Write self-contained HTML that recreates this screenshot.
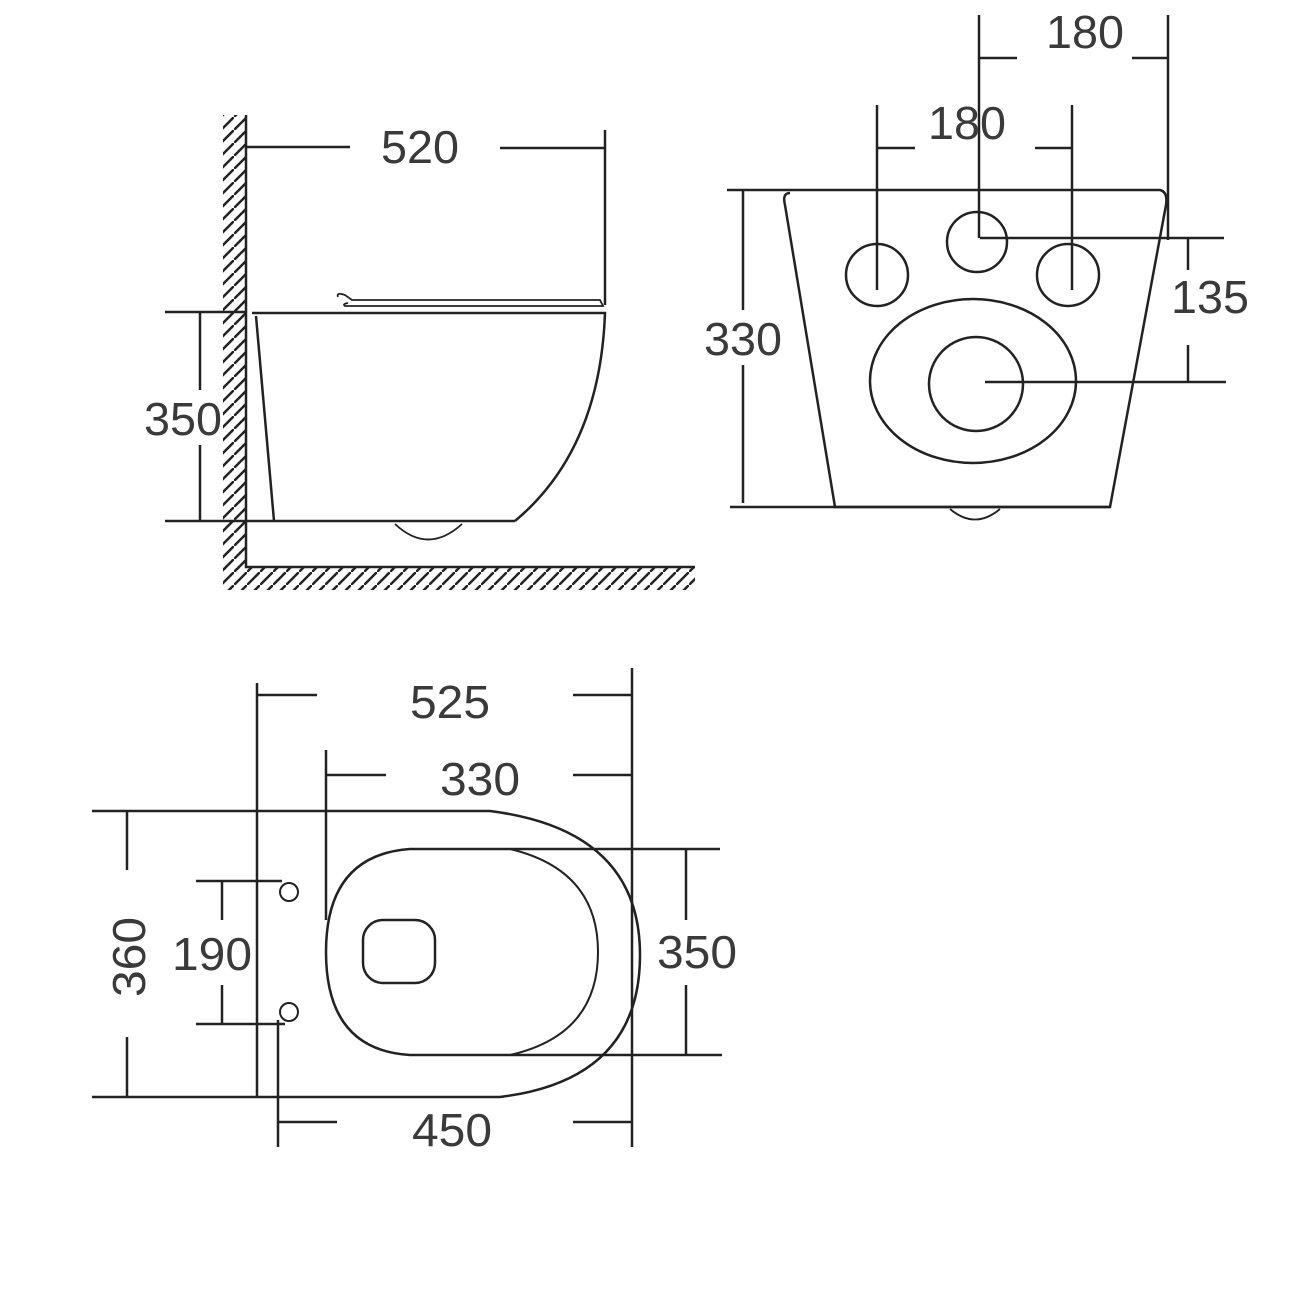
<!DOCTYPE html>
<html><head><style>html,body{margin:0;padding:0;background:#fff}svg{display:block}</style></head><body>
<svg width="1290" height="1294" viewBox="0 0 1290 1294" xmlns="http://www.w3.org/2000/svg">
<defs>
<pattern id="h" width="13" height="13" patternUnits="userSpaceOnUse"><path d="M-2,15 L15,-2" stroke="#222" stroke-width="2.5"/></pattern>
</defs>
<g fill="none" stroke="#222" stroke-width="2.5">
<!-- side view -->
<rect x="223" y="115" width="23" height="455" fill="url(#h)" stroke="none"/>
<rect x="223" y="568" width="472" height="22" fill="url(#h)" stroke="none"/>
<path d="M246,115 V567 H695"/>
<path d="M246,147 H350 M500,148 H605 M605,130 V305"/>
<path d="M338,297 Q336,292 345,295 L352,300 L600,300 L603,306 L345,306 Q342,304 348,303" stroke-width="1.8"/>
<path d="M252,313 H605 Q600,450 515,521 M256,316 L274,521"/>
<path d="M165,521 H515"/>
<path d="M395,524 Q428,555 462,524" stroke-width="1.8"/>
<path d="M165,312 H246 M200,312 V390 M200,445 V521"/>
<!-- front view -->
<path d="M727,190 H1160 Q1168,192 1166,205 L1110,507 H835 L785,205 Q782,193 790,193"/>
<path d="M730,507 H1110 M743,190 V310 M743,365 V503"/>
<circle cx="977" cy="242" r="30"/><circle cx="877" cy="275" r="31"/><circle cx="1068" cy="275" r="31"/>
<ellipse cx="973" cy="381" rx="103" ry="82"/><circle cx="976" cy="384" r="47"/>
<path d="M985,382 H1226 M980,238 H1224 M1188,238 V270 M1188,345 V382"/>
<path d="M979,15 V238 M1168,15 V240 M979,58 H1017 M1132,58 H1168"/>
<path d="M877,105 V290 M1072,105 V290 M877,148 H915 M1035,148 H1072"/>
<path d="M950,509 Q975,530 1000,509" stroke-width="1.8"/>
<!-- top view -->
<path d="M257,683 V1097 M632,668 V1147 M257,695 H317 M573,695 H632"/>
<path d="M326,750 V920 M326,775 H386 M573,775 H632"/>
<path d="M92,811 H490 Q640,830 640,955 Q640,1080 500,1097 H92"/>
<path d="M720,849 H410 Q326,855 326,952 Q326,1050 410,1055 H722"/>
<path d="M510,849 Q598,870 598,952 Q598,1035 510,1055" stroke-width="2"/>
<path d="M686,849 V920 M686,985 V1055"/>
<rect x="363" y="920" width="72" height="63" rx="20"/>
<path d="M127,811 V870 M127,1037 V1097"/>
<path d="M196,881 H282 M196,1024 H285 M222,881 V920 M222,985 V1024"/>
<circle cx="289" cy="892" r="9" stroke-width="2"/><circle cx="289" cy="1012" r="9" stroke-width="2"/>
<path d="M278,1020 V1147 M278,1122 H337 M573,1122 H632"/>
</g>
<g font-family="Liberation Sans, sans-serif" font-size="46" fill="#3a3a3a" text-anchor="middle">
<text x="420" y="163" textLength="78" lengthAdjust="spacingAndGlyphs">520</text>
<text x="183" y="435" textLength="78" lengthAdjust="spacingAndGlyphs">350</text>
<text x="743" y="355" textLength="78" lengthAdjust="spacingAndGlyphs">330</text>
<text x="1085" y="48" textLength="78" lengthAdjust="spacingAndGlyphs">180</text>
<text x="967" y="139" textLength="78" lengthAdjust="spacingAndGlyphs">180</text>
<text x="1210" y="313" textLength="78" lengthAdjust="spacingAndGlyphs">135</text>
<text x="450" y="718" textLength="80" lengthAdjust="spacingAndGlyphs">525</text>
<text x="480" y="795" textLength="80" lengthAdjust="spacingAndGlyphs">330</text>
<text x="697" y="968" textLength="80" lengthAdjust="spacingAndGlyphs">350</text>
<text x="212" y="970" textLength="80" lengthAdjust="spacingAndGlyphs">190</text>
<text x="452" y="1146" textLength="80" lengthAdjust="spacingAndGlyphs">450</text>
<text x="0" y="0" transform="translate(145,957) rotate(-90)" textLength="80" lengthAdjust="spacingAndGlyphs">360</text>
</g>
</svg>
</body></html>
